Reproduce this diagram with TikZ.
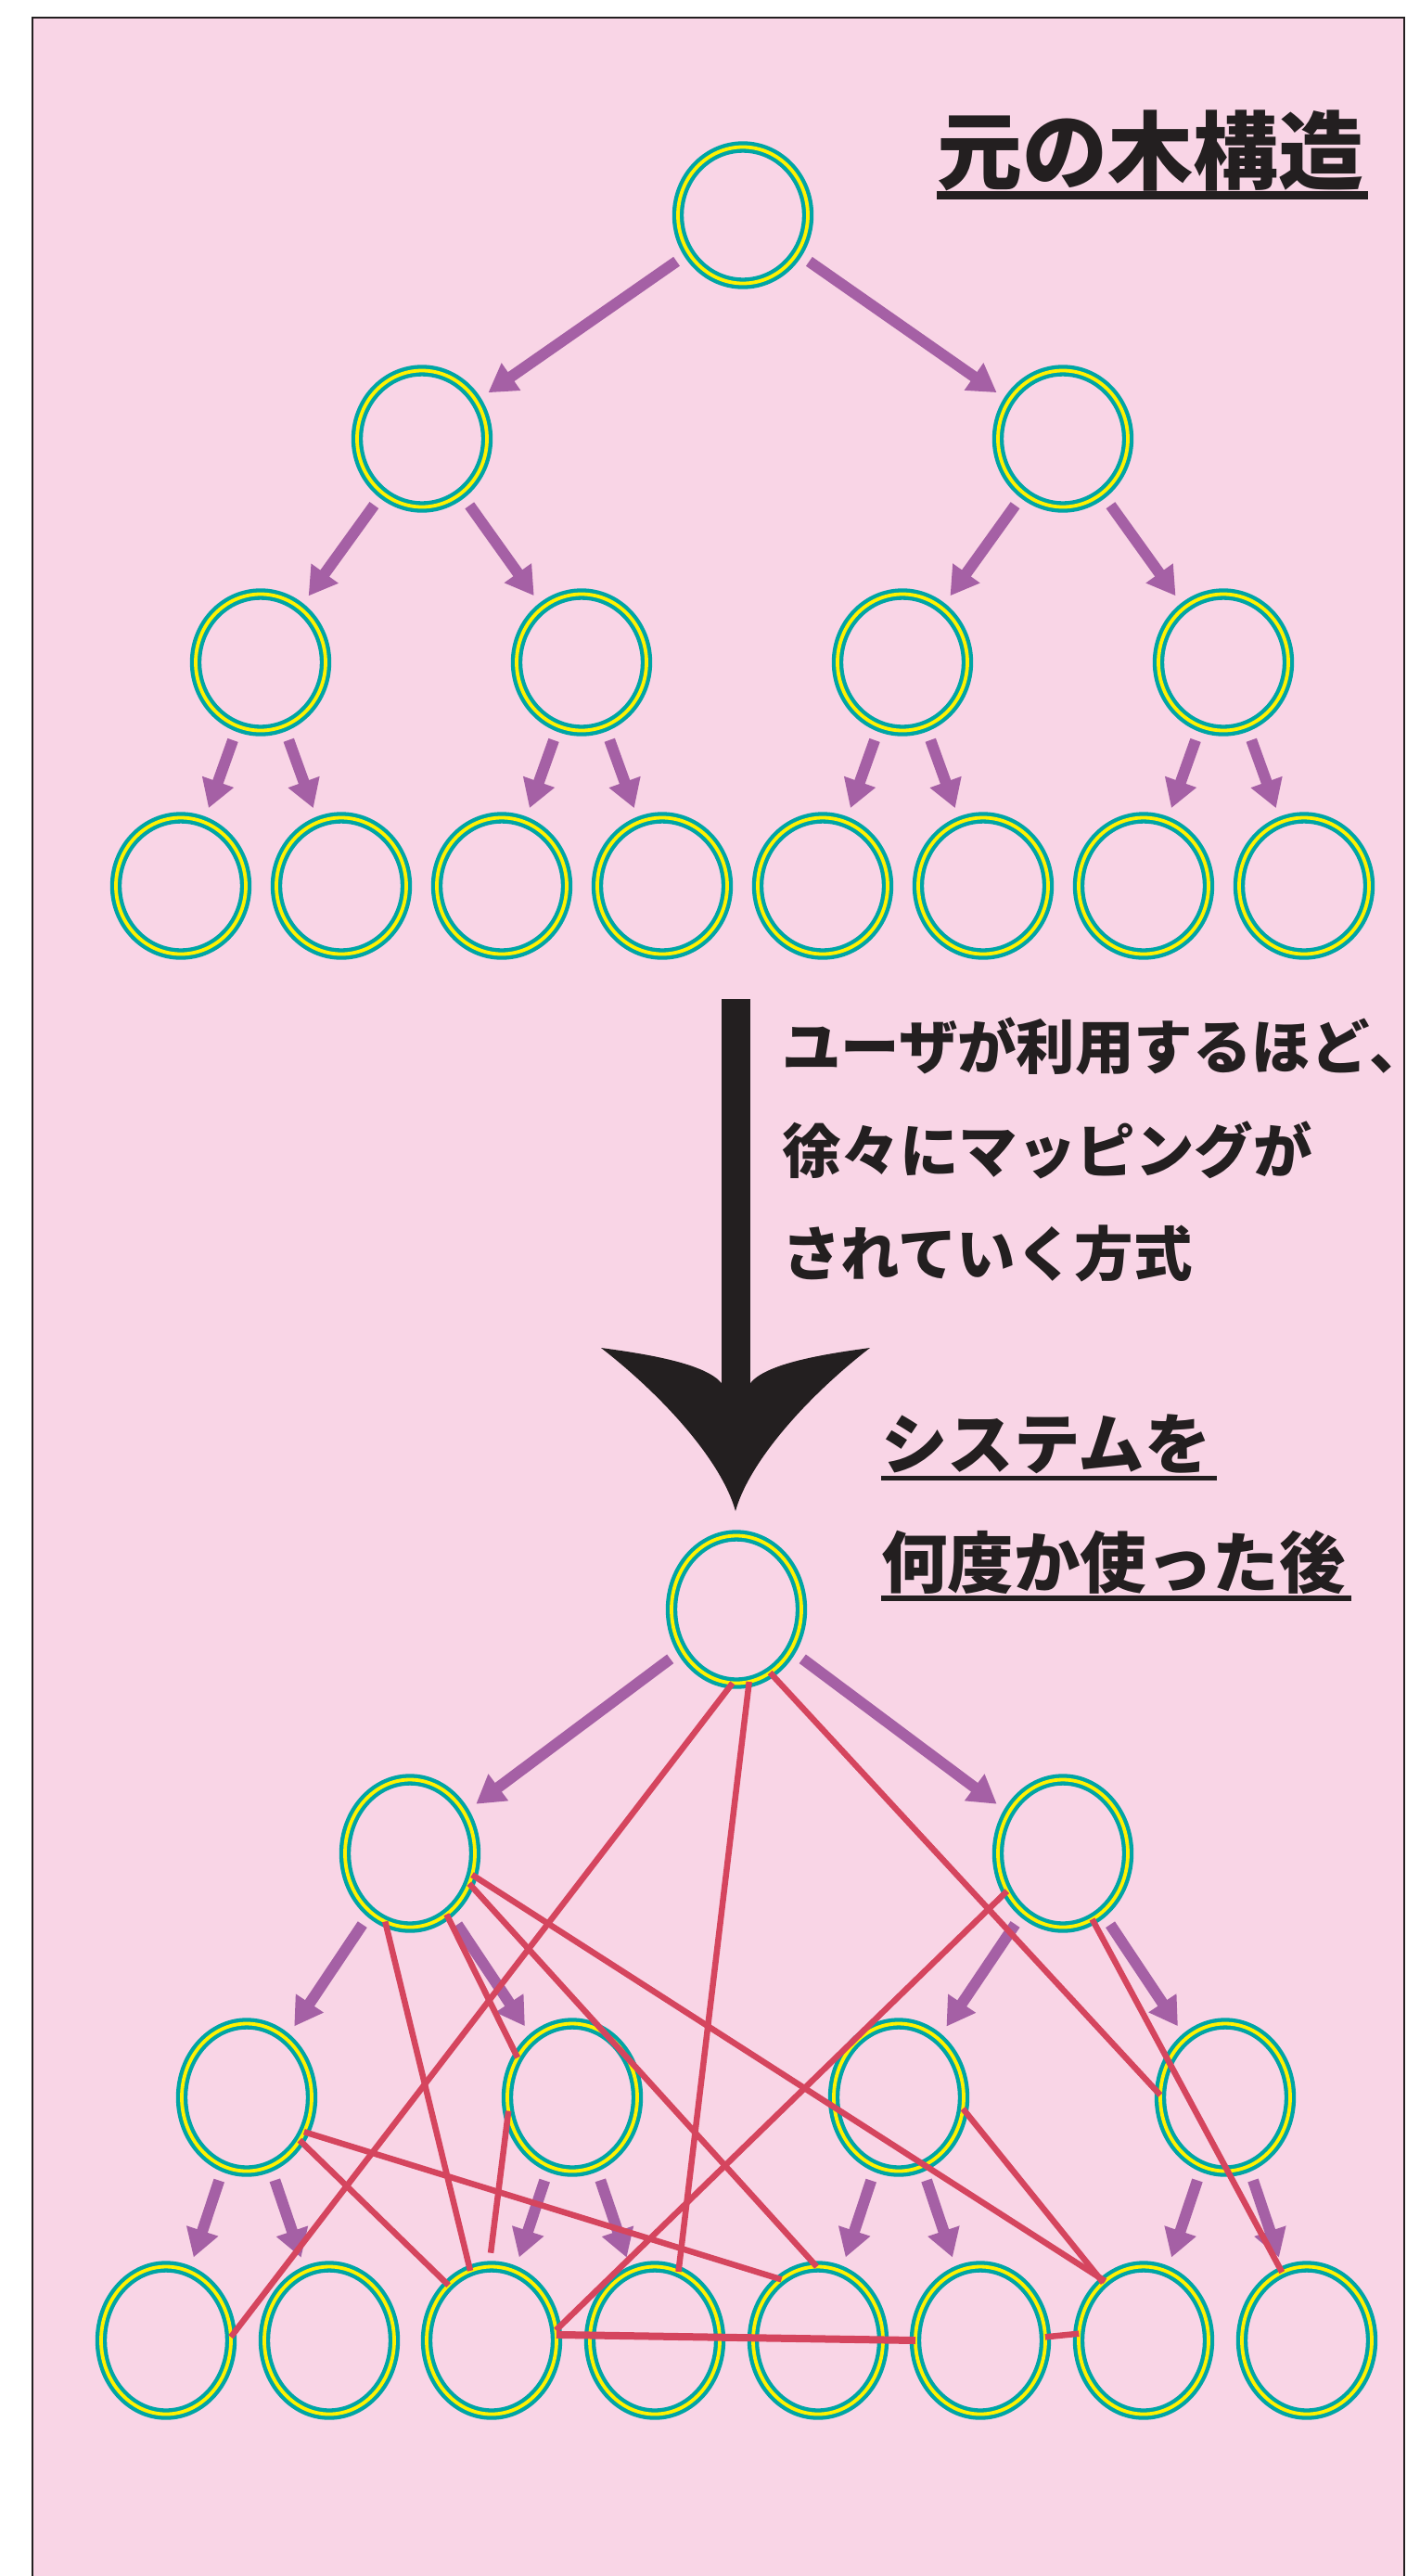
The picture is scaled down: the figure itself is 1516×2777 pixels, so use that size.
\documentclass[tikz,border=0pt]{standalone}
\usepackage{fontspec}
\usepackage{xcolor}
\usepackage{tikz}
\usetikzlibrary{shapes.geometric}
\usetikzlibrary{arrows.meta}

\newfontfamily\jpfont{Noto Sans CJK JP}
\definecolor{bgpink}{RGB}{249,213,230}
\definecolor{ringteal}{RGB}{0,165,165}
\definecolor{ringyellow}{RGB}{255,242,0}
\definecolor{treepurple}{RGB}{165,96,165}
\definecolor{mapred}{RGB}{213,69,94}
\definecolor{inkblack}{RGB}{35,31,32}

\begin{document}
\begin{tikzpicture}[x=1pt,y=-1pt,
        oldnode/.style={ellipse,draw=ringteal,double=ringyellow,line width=4.3pt,double distance=3.8pt,
            minimum width=140pt,minimum height=147pt,inner sep=0pt,outer sep=0pt},
        newnode/.style={oldnode,minimum height=159pt},
        childarrow/.style={treepurple,line width=12pt,-{Triangle[width=34pt,length=30pt]},
            shorten <=16pt,shorten >=16pt},
        maplink/.style={mapred,line width=6.5pt},
        heading/.style={inkblack,inner sep=0pt,anchor=base west}]
            \useasboundingbox (0,0) rectangle (1516,2777);
            \fill[white] (0,0) rectangle (1516,2777);
            \draw[inkblack,line width=2pt,fill=bgpink](35,19) rectangle (1514,2800);

            % titles and text
            \node[heading,font=\jpfont\bfseries\fontsize{92}{100}\selectfont] (oldtitle) at (1010,197){元の木構造};
            \draw[inkblack,line width=9pt]([yshift=-13pt]oldtitle.base west) -- ([yshift=-13pt,xshift=5pt]oldtitle.base east);
            \node[heading,font=\jpfont\bfseries\fontsize{63.5}{70}\selectfont] (usage1) at (843,1152){ユーザが利用するほど\makebox[0.5em][l]{、}};
            \node[heading,font=\jpfont\bfseries\fontsize{63.5}{70}\selectfont] (usage2) at (843,1264){徐々にマッピングが};
            \node[heading,font=\jpfont\bfseries\fontsize{63.5}{70}\selectfont] (usage3) at (843,1375){されていく方式};
            \node[heading,font=\jpfont\bfseries\fontsize{71.5}{80}\selectfont] (newtitle1) at (950,1583){システムを};
            \draw[inkblack,line width=5.5pt]([yshift=-10.5pt]newtitle1.base west) -- ([yshift=-10.5pt,xshift=6pt]newtitle1.base east);
            \node[heading,font=\jpfont\bfseries\fontsize{71.5}{80}\selectfont] (newtitle2) at (950,1711){何度か使った後};
            \draw[inkblack,line width=5.5pt]([yshift=-12pt]newtitle2.base west) -- ([yshift=-12pt,xshift=6pt]newtitle2.base east);

            % original tree
            \node[oldnode] (oroot) at (801,232){};
            \node[oldnode] (oa) at (455,473){};
            \node[oldnode] (ob) at (1146,473){};
            \node[oldnode] (oc1) at (281,714){};
            \node[oldnode] (oc2) at (627,714){};
            \node[oldnode] (oc3) at (973,714){};
            \node[oldnode] (oc4) at (1319,714){};
            \node[oldnode] (od1) at (195,955){};
            \node[oldnode] (od2) at (368,955){};
            \node[oldnode] (od3) at (541,955){};
            \node[oldnode] (od4) at (714,955){};
            \node[oldnode] (od5) at (887,955){};
            \node[oldnode] (od6) at (1060,955){};
            \node[oldnode] (od7) at (1233,955){};
            \node[oldnode] (od8) at (1406,955){};
            \draw[childarrow](oroot) -- (oa);
            \draw[childarrow](oroot) -- (ob);
            \draw[childarrow](oa) -- (oc1);
            \draw[childarrow](oa) -- (oc2);
            \draw[childarrow](ob) -- (oc3);
            \draw[childarrow](ob) -- (oc4);
            \draw[childarrow](oc1) -- (od1);
            \draw[childarrow](oc1) -- (od2);
            \draw[childarrow](oc2) -- (od3);
            \draw[childarrow](oc2) -- (od4);
            \draw[childarrow](oc3) -- (od5);
            \draw[childarrow](oc3) -- (od6);
            \draw[childarrow](oc4) -- (od7);
            \draw[childarrow](oc4) -- (od8);

            % big arrow
            \coordinate (flowtop) at (793,1077);
            \coordinate (flowneck) at (793,1495);
            \coordinate (flowtip) at (793,1629);
            \draw[inkblack,line width=31pt](flowtop) -- (flowneck);
            \fill[inkblack](648,1453) .. controls (700,1460) and (760,1470) .. (778,1491)
                -- (809,1491) .. controls (826,1470) and (886,1460) .. (938,1453)
                .. controls (871,1505) and (808,1575) .. (flowtip)
                .. controls (778,1575) and (715,1505) .. (648,1453) -- cycle;

            % tree after use
            \node[newnode] (nroot) at (794,1735){};
            \node[newnode] (na) at (442,1998){};
            \node[newnode] (nb) at (1146,1998){};
            \node[newnode] (nc1) at (266,2261){};
            \node[newnode] (nc2) at (617,2261){};
            \node[newnode] (nc3) at (969,2261){};
            \node[newnode] (nc4) at (1321,2261){};
            \node[newnode] (nd1) at (179,2523){};
            \node[newnode] (nd2) at (355,2523){};
            \node[newnode] (nd3) at (530,2523){};
            \node[newnode] (nd4) at (706,2523){};
            \node[newnode] (nd5) at (882,2523){};
            \node[newnode] (nd6) at (1057,2523){};
            \node[newnode] (nd7) at (1233,2523){};
            \node[newnode] (nd8) at (1409,2523){};
            \draw[childarrow](nroot) -- (na);
            \draw[childarrow](nroot) -- (nb);
            \draw[childarrow](na) -- (nc1);
            \draw[childarrow](na) -- (nc2);
            \draw[childarrow](nb) -- (nc3);
            \draw[childarrow](nb) -- (nc4);
            \draw[childarrow](nc1) -- (nd1);
            \draw[childarrow](nc1) -- (nd2);
            \draw[childarrow](nc2) -- (nd3);
            \draw[childarrow](nc2) -- (nd4);
            \draw[childarrow](nc3) -- (nd5);
            \draw[childarrow](nc3) -- (nd6);
            \draw[childarrow](nc4) -- (nd7);
            \draw[childarrow](nc4) -- (nd8);

            % mappings
            \draw[maplink](nroot.-93) -- (nd1.3);
            \draw[maplink](nroot.-80) -- (nd4.71);
            \draw[maplink](nroot.-62) -- (nc4.178);
            \draw[maplink](na.-19) -- (nd7.123);
            \draw[maplink](na.-27) -- (nd5.91);
            \draw[maplink](na.-110) -- (nd3.107);
            \draw[maplink](na.-59) -- (nc2.144);
            \draw[maplink](nc1.-31) -- (nd5.121);
            \draw[maplink](nc1.-39) -- (nd3.128);
            \draw[maplink,shorten >=15pt](nc2.192) -- (nd3.92);
            \draw[maplink](nd3.9) -- (nb.214);
            \draw[maplink,line width=8pt](nd3.5) -- (nd6.180);
            \draw[maplink](nd6.3) -- (nd7.174);
            \draw[maplink](nc3.-10) -- (nd7.125);
            \draw[maplink](nb.-66) -- (nd8.110);
        \end{tikzpicture}
\end{document}
